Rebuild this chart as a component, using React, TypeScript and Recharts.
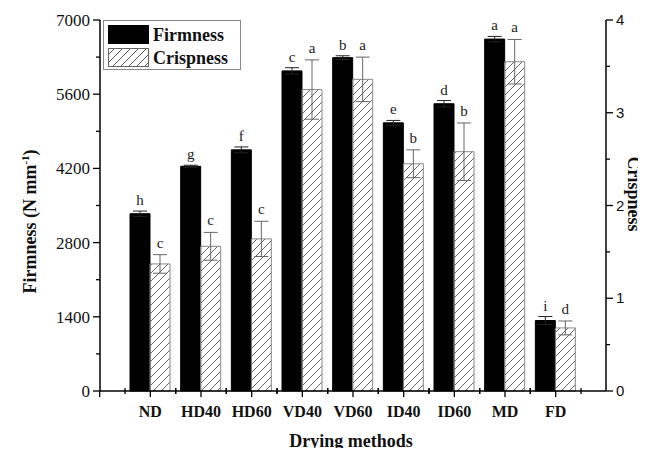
import { ComposedChart, Bar, XAxis, YAxis, ErrorBar, LabelList, Legend } from "recharts";

const methods = ["ND", "HD40", "HD60", "VD40", "VD60", "ID40", "ID60", "MD", "FD"];
const firmness = [3345, 4240, 4550, 6040, 6290, 5060, 5420, 6640, 1330];
const firmnessErr = [50, 20, 55, 60, 35, 45, 60, 50, 75];
const firmnessLetters = ["h", "g", "f", "c", "b", "e", "d", "a", "i"];
const crispness = [1.37, 1.56, 1.64, 3.25, 3.36, 2.45, 2.58, 3.55, 0.68];
const crispnessErr = [0.1, 0.15, 0.19, 0.32, 0.24, 0.15, 0.31, 0.24, 0.075];
const crispnessLetters = ["c", "c", "c", "a", "a", "b", "b", "a", "d"];
const firmnessTicks = [0, 700, 1400, 2100, 2800, 3500, 4200, 4900, 5600, 6300, 7000];
const crispnessTicks = [0, 0.5, 1, 1.5, 2, 2.5, 3, 3.5, 4];

const data = methods.map((m, i) => ({
    name: m,
    firmness: firmness[i],
    firmErr: firmnessErr[i],
    firmLetter: firmnessLetters[i],
    crispness: crispness[i],
    crispErr: crispnessErr[i],
    crispLetter: crispnessLetters[i],
}));

const SERIF = "'Liberation Serif', 'Times New Roman', serif";
const SANS = "'Liberation Sans', Arial, sans-serif";
// plot is 506px wide, 25px padding each side -> step between categories
const STEP = (506 - 50) / 9;

const LeftTick = (props: any) => {
    const { x, y, payload } = props;
    const major = payload.value % 1400 === 0;
    return (
        <g>
            <line x1={x} x2={x - (major ? 7 : 4)} y1={y} y2={y} stroke="#000" strokeWidth={1.3} />
            {major && (
                <text x={x - 10} y={y} dy={6} textAnchor="end" fontFamily={SERIF} fontSize={17} fill="#111">
                    {payload.value}
                </text>
            )}
        </g>
    );
};

const RightTick = (props: any) => {
    const { x, y, payload } = props;
    const major = Number.isInteger(payload.value);
    return (
        <g>
            <line x1={x} x2={x + (major ? 7 : 4)} y1={y} y2={y} stroke="#000" strokeWidth={1.3} />
            {major && (
                <text x={x + 10} y={y} dy={5} textAnchor="start" fontFamily={SANS} fontSize={15} fill="#111">
                    {payload.value}
                </text>
            )}
        </g>
    );
};

const BottomTick = (props: any) => {
    const { x, y, payload, index } = props;
    const h = STEP / 2;
    return (
        <g>
            <line x1={x} x2={x} y1={y} y2={y + 6} stroke="#000" strokeWidth={1.3} />
            <line x1={x - h} x2={x - h} y1={y - 3} y2={y + 3} stroke="#000" strokeWidth={1.3} />
            <line x1={x + h} x2={x + h} y1={y - 3} y2={y + 3} stroke="#000" strokeWidth={1.3} />
            {index === 0 && <line x1={x - STEP} x2={x - STEP} y1={y} y2={y + 6} stroke="#000" strokeWidth={1.3} />}
            <text x={x} y={y + 26} textAnchor="middle" fontFamily={SERIF} fontWeight="bold" fontSize={16} fill="#111">
                {payload.value}
            </text>
        </g>
    );
};

const letterLabel = (values: number[], errs: number[], gap: number) => (props: any) => {
    const { x, y, width, height, value, index } = props;
    const top = y - (height * errs[index]) / values[index];
    return (
        <text x={x + width / 2} y={top - gap} textAnchor="middle" fontFamily={SERIF} fontSize={15} fill="#222">
            {value}
        </text>
    );
};

const LegendBox = () => (
    <svg width={138} height={50} style={{ display: "block" }}>
        <rect x={0.5} y={0.5} width={137} height={49} fill="#fff" stroke="#888" strokeWidth={1} />
        <rect x={5} y={5} width={41} height={19} fill="#000" />
        <rect x={5.5} y={28.5} width={40} height={18} fill="url(#hatch2)" stroke="#666" />
        <defs>
            <pattern id="hatch2" patternUnits="userSpaceOnUse" width={8} height={8}>
                <path d="M-2,2 L2,-2 M0,8 L8,0 M6,10 L10,6" stroke="#444" strokeWidth={0.9} />
            </pattern>
        </defs>
        <text x={50} y={21} fontFamily={SERIF} fontWeight="bold" fontSize={18} fill="#111">Firmness</text>
        <text x={50} y={44} fontFamily={SERIF} fontWeight="bold" fontSize={18} fill="#111">Crispness</text>
    </svg>
);

export default function App() {
    return (
        <div style={{ margin: -8, width: 646, height: 456, background: "#fff" }}>
            <ComposedChart
                width={646}
                height={456}
                data={data}
                margin={{ top: 20, right: 0, left: 0, bottom: 35 }}
                barGap={0}
            >
                <defs>
                    <pattern id="hatch" patternUnits="userSpaceOnUse" width={8} height={8}>
                        <path d="M-2,2 L2,-2 M0,8 L8,0 M6,10 L10,6" stroke="#555" strokeWidth={0.9} />
                    </pattern>
                </defs>
                <XAxis
                    dataKey="name"
                    height={30}
                    padding={{ left: 25, right: 25 }}
                    axisLine={{ stroke: "#000", strokeWidth: 1.5 }}
                    tickLine={false}
                    tickSize={0}
                    tickMargin={0}
                    interval={0}
                    tick={<BottomTick />}
                    label={{
                        content: (p: any) => (
                            <text
                                x={p.viewBox.x + p.viewBox.width / 2 - 2}
                                y={p.viewBox.y + 56}
                                textAnchor="middle"
                                fontFamily={SERIF}
                                fontWeight="bold"
                                fontSize={18}
                                fill="#111"
                            >
                                Drying methods
                            </text>
                        ),
                    }}
                />
                <YAxis
                    yAxisId="left"
                    orientation="left"
                    width={100}
                    domain={[0, 7000]}
                    ticks={firmnessTicks}
                    interval={0}
                    axisLine={{ stroke: "#000", strokeWidth: 1.5 }}
                    tickLine={false}
                    tickSize={0}
                    tickMargin={0}
                    tick={<LeftTick />}
                    label={{
                        content: (p: any) => {
                            const cx = p.viewBox.x + 30;
                            const cy = p.viewBox.y + p.viewBox.height / 2 + 16;
                            return (
                                <text
                                    x={cx}
                                    y={cy}
                                    transform={`rotate(-90 ${cx} ${cy})`}
                                    textAnchor="middle"
                                    fontFamily={SERIF}
                                    fontWeight="bold"
                                    fontSize={18}
                                    fill="#111"
                                    dy={6}
                                >
                                    Firmness (N mm
                                    <tspan dy={-7} fontSize={11}>-1</tspan>
                                    <tspan dy={7}>)</tspan>
                                </text>
                            );
                        },
                    }}
                />
                <YAxis
                    yAxisId="right"
                    orientation="right"
                    width={40}
                    domain={[0, 4]}
                    ticks={crispnessTicks}
                    interval={0}
                    axisLine={{ stroke: "#000", strokeWidth: 1.5 }}
                    tickLine={false}
                    tickSize={0}
                    tickMargin={0}
                    tick={<RightTick />}
                    label={{
                        content: (p: any) => {
                            const cx = p.viewBox.x + 28;
                            const cy = 194;
                            return (
                                <text
                                    x={cx}
                                    y={cy}
                                    transform={`rotate(90 ${cx} ${cy})`}
                                    textAnchor="middle"
                                    fontFamily={SERIF}
                                    fontWeight="bold"
                                    fontSize={18}
                                    fill="#111"
                                    dy={6}
                                >
                                    Crispness
                                </text>
                            );
                        },
                    }}
                />
                <Legend
                    layout="horizontal"
                    verticalAlign="middle"
                    align="center"
                    wrapperStyle={{ left: 103, top: 20, width: 138, height: 50 }}
                    content={() => <LegendBox />}
                />
                <Bar
                    yAxisId="left"
                    dataKey="firmness"
                    name="Firmness"
                    fill="#000"
                    stroke="#000"
                    barSize={20}
                    isAnimationActive={false}
                >
                    <ErrorBar dataKey="firmErr" width={7} stroke="#222" strokeWidth={1} direction="y" />
                    <LabelList dataKey="firmLetter" content={letterLabel(firmness, firmnessErr, 6)} />
                </Bar>
                <Bar
                    yAxisId="right"
                    dataKey="crispness"
                    name="Crispness"
                    fill="url(#hatch)"
                    stroke="#888"
                    barSize={20}
                    isAnimationActive={false}
                >
                    <ErrorBar dataKey="crispErr" width={7} stroke="#666" strokeWidth={1} direction="y" />
                    <LabelList dataKey="crispLetter" content={letterLabel(crispness, crispnessErr, 7)} />
                </Bar>
            </ComposedChart>
        </div>
    );
}
